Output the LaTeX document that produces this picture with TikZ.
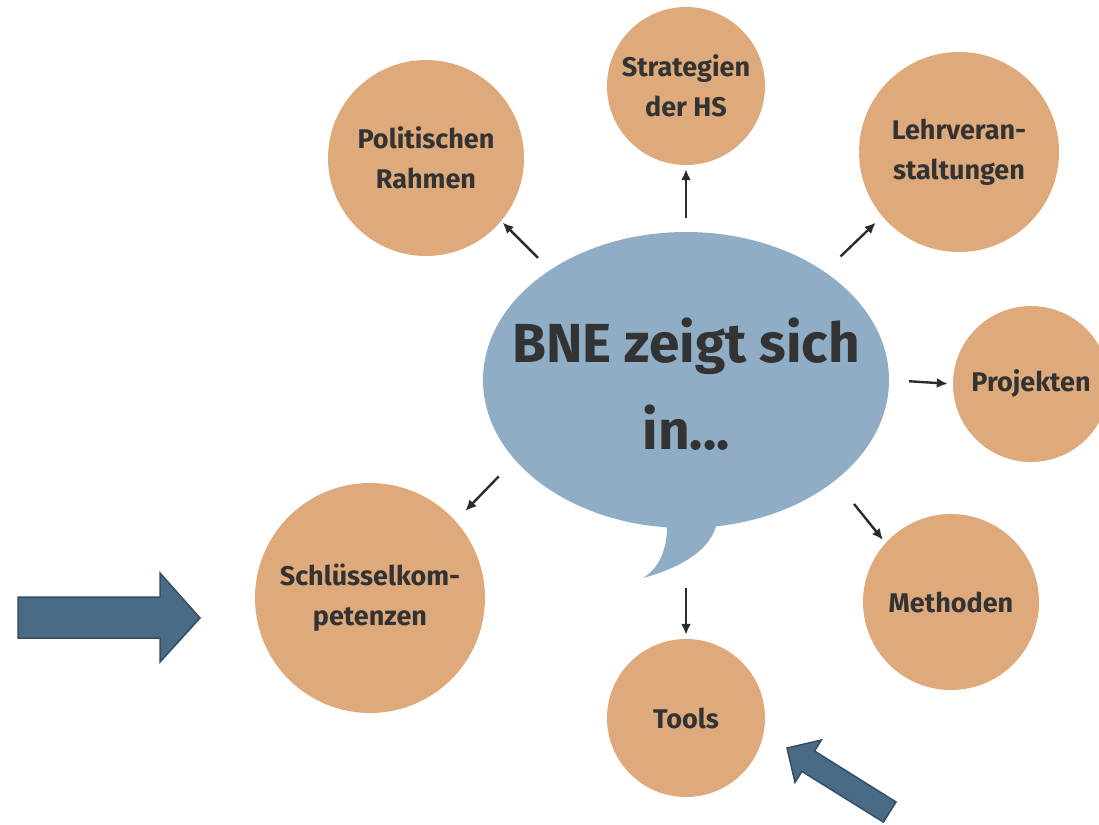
\documentclass[tikz,border=0pt]{standalone}
\usepackage{fontspec}
\setmainfont{Fira Sans}
\usepackage{xcolor}
\usetikzlibrary{positioning, calc, arrows.meta, shapes.geometric}

\definecolor{topicfill}{HTML}{DEAA7C}
\definecolor{bubblefill}{HTML}{8FADC5}
\definecolor{bigarrowfill}{HTML}{4A6B86}
\definecolor{bigarrowline}{HTML}{344E63}
\definecolor{textgray}{HTML}{333333}
\definecolor{arrowgray}{HTML}{2B2B2B}

\begin{document}
\begin{tikzpicture}[x=1pt, y=-1pt,
        topic/.style={circle, fill=topicfill, text=textgray, font=\bfseries\fontsize{27}{40}\selectfont, align=center, inner sep=0pt},
        bubble/.style={ellipse, fill=bubblefill, minimum width=406pt, minimum height=296pt, inner sep=0pt},
        link/.style={-{Latex[length=11pt,width=10pt]}, line width=2.4pt, draw=arrowgray},
        bigarrow/.style={fill=bigarrowfill, draw=bigarrowline, line width=1.5pt, line join=miter}]

    \useasboundingbox (0,0) rectangle (1099,824);

    % Speech bubble
    \node[bubble, label={[text=textgray, font=\bfseries\fontsize{55}{87}\selectfont, align=center, yshift=-4pt]center:BNE zeigt sich\\in...}] (bne) at (686,380) {};
    \fill[bubblefill] (666,520) -- (667,530) .. controls (666,555) and (656,570) .. (643,578) .. controls (680,568) and (712,550) .. (717,522) -- cycle;

    % Topics around the bubble
    \node[topic, minimum size=196pt] (pol) at (426,158) {Politischen\\Rahmen};
    \node[topic, minimum size=158pt] (strat) at (686,86) {Strategien\\der HS};
    \node[topic, minimum size=200pt] (lehr) at (959,152) {Lehrveran-\\staltungen};
    \node[topic, minimum size=156pt] (proj) at (1031,384) {Projekten};
    \node[topic, minimum size=176pt] (meth) at (951,602) {Methoden};
    \node[topic, minimum size=158pt] (tools) at (686,718) {Tools};
    \node[topic, minimum size=230pt] (schl) at (370,598) {Schlüsselkom-\\petenzen};

    % Arrows from the bubble
    \draw[link, shorten <=17pt, shorten >=2pt] (bne.141) -- (pol.-40);
    \draw[link, shorten <=14pt, shorten >=4pt] (bne.north) -- (strat.south);
    \draw[link, shorten <=22pt, shorten >=9pt] (bne.38) -- (lehr.-140);
    \draw[link, shorten <=20pt, shorten >=5pt] (bne.east) -- (proj.west);
    \draw[link, shorten <=30pt, shorten >=4pt] (bne.-34) -- (meth.138);
    \draw[link, shorten <=60pt, shorten >=4pt] (bne.south) -- (tools.north);
    \draw[link, shorten <=23pt, shorten >=14pt] (bne.-155) -- (schl.42);

    % Highlight arrows
    \draw[bigarrow] (18,597) -- (160,597) -- (160,573) -- (200,618) -- (160,662) -- (160,638) -- (18,638) -- cycle;
    \draw[bigarrow] (896,802) -- (814.5,751) -- (821.4,740) -- (787,748) -- (795,782.4) -- (801.9,771.4) -- (883.4,822.1) -- cycle;

\end{tikzpicture}
\end{document}
